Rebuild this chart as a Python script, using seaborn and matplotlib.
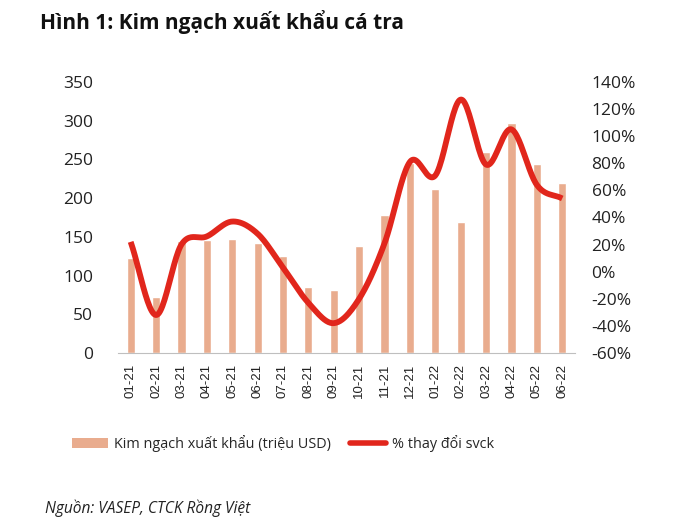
import numpy as np
import pandas as pd
import matplotlib
matplotlib.use("Agg")
import matplotlib.pyplot as plt
import matplotlib.font_manager as fm
import seaborn as sns
from matplotlib.lines import Line2D
from matplotlib.patches import Patch

months = ["01-21", "02-21", "03-21", "04-21", "05-21", "06-21", "07-21", "08-21", "09-21",
          "10-21", "11-21", "12-21", "01-22", "02-22", "03-22", "04-22", "05-22", "06-22"]
export_value = [123, 72, 145, 146, 147, 142, 125, 85, 81, 138, 178, 245, 212, 169, 260, 297, 244, 220]
yoy_change = [22, -32, 20, 26, 37, 28, 3, -23, -38, -20, 21, 81, 71, 127, 79, 105, 64, 54]

left_ticks = [0, 50, 100, 150, 200, 250, 300, 350]
right_ticks = [-60, -40, -20, 0, 20, 40, 60, 80, 100, 120, 140]

title = "Hình 1: Kim ngạch xuất khẩu cá tra"
bar_label = "Kim ngạch xuất khẩu (triệu USD)"
line_label = "% thay đổi svck"
source = "Nguồn: VASEP, CTCK Rồng Việt"

sns.set_theme(style="white")
plt.rcParams['font.family'] = ['Open Sans', 'DejaVu Sans']
body_family = ['Open Sans', 'DejaVu Sans']

BAR_COLOR = "#E9AC8E"
LINE_COLOR = "#E1261C"

df = pd.DataFrame({"month": months, "value": export_value, "pct": yoy_change})

fig = plt.figure(figsize=(6.8, 5.32), dpi=100)
ax = fig.add_axes([0.1735, 0.3365, 0.672, 0.5095])

sns.barplot(data=df, x="month", y="value", color=BAR_COLOR, width=0.32,
            saturation=1, ax=ax, zorder=2)
ax.set_ylim(0, 350)
ax.set_xlim(-0.5, len(months) - 0.5)
ax.set_yticks(left_ticks)
ax.set_yticklabels([str(t) for t in left_ticks], fontsize=12.5, color="#222222")
ax.set_xlabel("")
ax.set_ylabel("")
ax.set_xticks(range(len(months)))
ax.set_xticklabels(months, rotation=90, fontsize=9.5, color="#222222",
                   family=['Liberation Sans', 'DejaVu Sans'])
ax.set_xticks(np.arange(-0.5, len(months), 1), minor=True)
ax.tick_params(axis="x", which="major", length=0, pad=8)
ax.tick_params(axis="x", which="minor", length=4, color="#BFBFBF", width=0.8, direction="out")
ax.tick_params(axis="y", length=0, pad=18)
for s in ["top", "right", "left"]:
    ax.spines[s].set_visible(False)
ax.spines["bottom"].set_color("#BFBFBF")
ax.spines["bottom"].set_linewidth(0.8)

ax2 = ax.twinx()
# smooth rendering of the line (Catmull-Rom through the read points)
x = np.arange(len(yoy_change), dtype=float)
y = np.array(yoy_change, dtype=float)
px = np.concatenate([[2 * x[0] - x[1]], x, [2 * x[-1] - x[-2]]])
py = np.concatenate([[2 * y[0] - y[1]], y, [2 * y[-1] - y[-2]]])
xs, ys = [], []
t = np.linspace(0, 1, 25)
for i in range(1, len(px) - 2):
    p0, p1, p2, p3 = [np.array([px[j], py[j]]) for j in (i - 1, i, i + 1, i + 2)]
    for tt in (t[:-1] if i < len(px) - 3 else t):
        pt = 0.5 * ((2 * p1) + (-p0 + p2) * tt + (2 * p0 - 5 * p1 + 4 * p2 - p3) * tt ** 2
                    + (-p0 + 3 * p1 - 3 * p2 + p3) * tt ** 3)
        xs.append(pt[0]); ys.append(pt[1])
smooth = pd.DataFrame({"x": xs, "y": ys})
sns.lineplot(data=smooth, x="x", y="y", sort=False, color=LINE_COLOR, linewidth=4.2,
             ax=ax2, solid_capstyle="butt")
ax2.set_ylim(-60, 140)
ax2.set_yticks(right_ticks)
ax2.set_yticklabels([f"{t}%" for t in right_ticks], fontsize=12.5, color="#222222")
ax2.tick_params(axis="y", length=0, pad=12)
ax2.set_xlabel("")
ax2.set_ylabel("")
for s in ["top", "right", "left", "bottom"]:
    ax2.spines[s].set_visible(False)
ax.set_xlim(-0.5, len(months) - 0.5)

fig.text(0.059, 0.958, title, fontsize=15, fontweight="bold", color="#111111",
         va="center", ha="left")

handles = [Patch(facecolor=BAR_COLOR, edgecolor="none", label=bar_label),
           Line2D([0], [0], color=LINE_COLOR, linewidth=4, label=line_label)]
fig.legend(handles=handles, loc="center left", bbox_to_anchor=(0.087, 0.167), ncol=2,
           frameon=False, handlelength=2.5, handletextpad=0.4,
           columnspacing=1.3,
           prop=fm.FontProperties(family=body_family, size=10.4))

fig.text(0.066, 0.045, source, style="italic", color="#222222",
         va="center", ha="left", family=body_family, fontsize=11.2)

fig.savefig("out.png", dpi=100)
